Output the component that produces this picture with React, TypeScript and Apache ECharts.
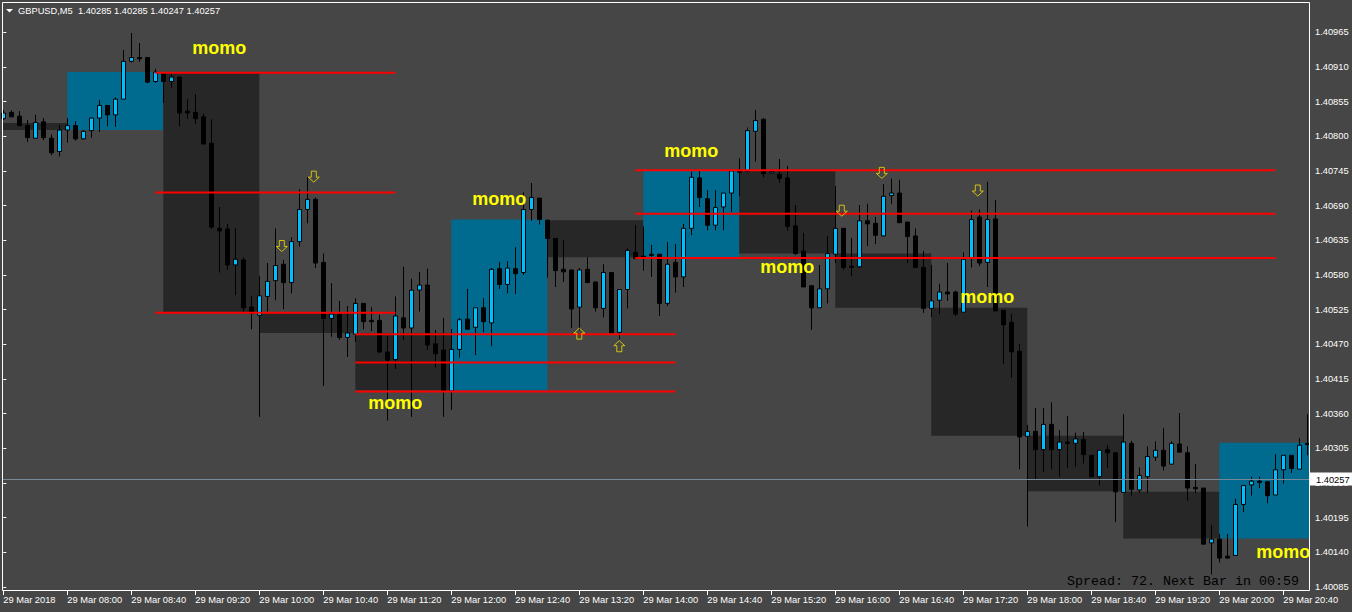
import React, { useEffect, useRef } from "react";
import * as echarts from "echarts";

// GBPUSD M5, 29 Mar 2018, bar 0 = 07:20 ... bar 163 = 20:55
const opens = [
  1.40828, 1.40838, 1.40832, 1.40817, 1.40797, 1.40823, 1.40797, 1.40776, 1.4081, 1.40817,
  1.40796, 1.40809, 1.40829, 1.40849, 1.40834, 1.40859, 1.40919, 1.40925, 1.40925, 1.40887,
  1.40901, 1.40887, 1.40894, 1.4084, 1.40838, 1.40831, 1.40789, 1.40654, 1.40653, 1.40596,
  1.40604, 1.40529, 1.40516, 1.40546, 1.40571, 1.40597, 1.40568, 1.40633, 1.40684, 1.407,
  1.406, 1.40511, 1.40517, 1.40481, 1.40486, 1.40535, 1.40508, 1.40508, 1.40458, 1.40446,
  1.40512, 1.40496, 1.40556, 1.40564, 1.40471, 1.40461, 1.40396, 1.40462, 1.4051, 1.40497,
  1.40528, 1.40504, 1.4059, 1.40565, 1.4059, 1.40584, 1.40684, 1.40702, 1.40667, 1.40638,
  1.40589, 1.40588, 1.40529, 1.40589, 1.40569, 1.40527, 1.40584, 1.40489, 1.40557, 1.40616,
  1.4061, 1.40613, 1.40613, 1.40535, 1.406, 1.40577, 1.40654, 1.40734, 1.40701, 1.40659,
  1.40688, 1.4071, 1.40747, 1.40744, 1.40808, 1.40827, 1.40742, 1.4074, 1.40734, 1.40658,
  1.40618, 1.40563, 1.40528, 1.40558, 1.40613, 1.40654, 1.40594, 1.40593, 1.40666, 1.40662,
  1.40642, 1.40706, 1.4071, 1.40664, 1.40642, 1.40592, 1.40527, 1.4054, 1.40553, 1.40553,
  1.40521, 1.40606, 1.40672, 1.406, 1.40669, 1.40524, 1.40505, 1.40459, 1.40324, 1.40332,
  1.40303, 1.40343, 1.40303, 1.40315, 1.40313, 1.40319, 1.40294, 1.4026, 1.40303, 1.40298,
  1.40235, 1.40313, 1.40239, 1.4026, 1.40291, 1.40302, 1.4028, 1.40312, 1.40298, 1.40243,
  1.40242, 1.40155, 1.40161, 1.40134, 1.40135, 1.40216, 1.40247, 1.40253, 1.40252, 1.40231,
  1.40271, 1.40294, 1.40272, 1.40313,
];
const highs = [
  1.40842, 1.40841, 1.4084, 1.40826, 1.40834, 1.40829, 1.40803, 1.40818, 1.40829, 1.40824,
  1.4081, 1.4083, 1.40858, 1.40849, 1.40862, 1.40937, 1.40964, 1.40948, 1.40925, 1.40907,
  1.40901, 1.40901, 1.40894, 1.40859, 1.40867, 1.40836, 1.40827, 1.40688, 1.40661, 1.40654,
  1.40608, 1.40547, 1.40578, 1.40599, 1.40654, 1.40604, 1.4064, 1.40716, 1.40735, 1.40703,
  1.40614, 1.40567, 1.40539, 1.40531, 1.40543, 1.40535, 1.40529, 1.40517, 1.40484, 1.40546,
  1.40593, 1.40574, 1.40585, 1.4059, 1.40493, 1.40512, 1.40494, 1.40512, 1.40558, 1.40528,
  1.40543, 1.40591, 1.40601, 1.40602, 1.40624, 1.40711, 1.40726, 1.40702, 1.40667, 1.40638,
  1.40635, 1.40588, 1.40591, 1.40608, 1.40569, 1.40597, 1.40584, 1.40557, 1.40622, 1.40659,
  1.40657, 1.40628, 1.40613, 1.40632, 1.40629, 1.40661, 1.40744, 1.40745, 1.40715, 1.40715,
  1.4071, 1.40745, 1.40765, 1.40814, 1.40842, 1.40829, 1.40745, 1.40764, 1.40753, 1.40691,
  1.40647, 1.40563, 1.40596, 1.40642, 1.40721, 1.40654, 1.40639, 1.40691, 1.40693, 1.40672,
  1.40724, 1.40733, 1.40731, 1.40664, 1.40654, 1.40618, 1.40596, 1.40566, 1.40599, 1.40555,
  1.40616, 1.40682, 1.40684, 1.40728, 1.40699, 1.40524, 1.40518, 1.40471, 1.40342, 1.40369,
  1.40369, 1.40378, 1.40334, 1.40356, 1.4033, 1.40331, 1.40294, 1.40302, 1.4031, 1.40298,
  1.40359, 1.40317, 1.40275, 1.40308, 1.40316, 1.40337, 1.40316, 1.40361, 1.40308, 1.4028,
  1.40242, 1.40183, 1.40169, 1.40169, 1.40225, 1.40246, 1.4026, 1.4026, 1.40252, 1.40296,
  1.40294, 1.40294, 1.40321, 1.40359,
];
const lows = [
  1.40826, 1.4083, 1.40817, 1.40791, 1.40797, 1.40794, 1.4077, 1.40768, 1.4079, 1.40793,
  1.40795, 1.40798, 1.40807, 1.40816, 1.40815, 1.40859, 1.40917, 1.40918, 1.40884, 1.40885,
  1.40853, 1.40877, 1.40816, 1.40828, 1.4082, 1.40787, 1.40653, 1.40584, 1.40588, 1.40548,
  1.40522, 1.40494, 1.40355, 1.40522, 1.4054, 1.40526, 1.40551, 1.40625, 1.40662, 1.40591,
  1.40404, 1.40482, 1.40477, 1.4045, 1.40474, 1.40494, 1.40491, 1.40456, 1.40349, 1.40431,
  1.40477, 1.40355, 1.40522, 1.40461, 1.40433, 1.40355, 1.40366, 1.40449, 1.40493, 1.40453,
  1.40489, 1.40467, 1.40558, 1.40551, 1.4055, 1.4058, 1.40666, 1.4066, 1.40576, 1.40561,
  1.40569, 1.40496, 1.40493, 1.40568, 1.40522, 1.40513, 1.40488, 1.40478, 1.40527, 1.40606,
  1.40587, 1.40577, 1.40515, 1.40531, 1.40552, 1.40561, 1.40643, 1.40688, 1.40651, 1.40651,
  1.40651, 1.4068, 1.40705, 1.40744, 1.4076, 1.40735, 1.40741, 1.40726, 1.4065, 1.40612,
  1.40561, 1.40493, 1.40528, 1.40535, 1.40599, 1.40588, 1.40578, 1.40592, 1.40626, 1.40629,
  1.40641, 1.40693, 1.40663, 1.40599, 1.40591, 1.4052, 1.40513, 1.40518, 1.40539, 1.40515,
  1.40521, 1.40592, 1.40594, 1.40561, 1.40523, 1.40439, 1.40417, 1.40272, 1.40181, 1.40255,
  1.40268, 1.40272, 1.4026, 1.40274, 1.40276, 1.40281, 1.4026, 1.40246, 1.40274, 1.40188,
  1.40235, 1.4023, 1.40234, 1.40234, 1.40285, 1.4027, 1.4028, 1.40299, 1.40222, 1.40234,
  1.40153, 1.40105, 1.40124, 1.4013, 1.40135, 1.40204, 1.4023, 1.40242, 1.40218, 1.40231,
  1.40249, 1.40266, 1.40272, 1.40294,
];
const closes = [
  1.40837, 1.40831, 1.40817, 1.40798, 1.40822, 1.40798, 1.40774, 1.4081, 1.40817, 1.40796,
  1.40808, 1.40829, 1.40849, 1.40834, 1.40859, 1.40919, 1.40925, 1.40923, 1.40886, 1.40902,
  1.40887, 1.40894, 1.40837, 1.40837, 1.40828, 1.40788, 1.40656, 1.4065, 1.40596, 1.40605,
  1.40528, 1.40519, 1.40547, 1.4057, 1.40595, 1.40568, 1.40633, 1.40684, 1.407, 1.40599,
  1.40511, 1.40518, 1.40481, 1.40488, 1.40535, 1.40506, 1.40506, 1.40458, 1.40445, 1.40515,
  1.40496, 1.40556, 1.40564, 1.40469, 1.40455, 1.40396, 1.40462, 1.40509, 1.40494, 1.40528,
  1.40506, 1.40589, 1.40565, 1.40591, 1.40582, 1.40684, 1.40703, 1.40668, 1.40638, 1.40587,
  1.40585, 1.40526, 1.40588, 1.40568, 1.40528, 1.40584, 1.40488, 1.40557, 1.40619, 1.40606,
  1.40608, 1.40611, 1.40535, 1.40597, 1.40577, 1.40654, 1.40735, 1.40703, 1.40659, 1.40687,
  1.4071, 1.40745, 1.40743, 1.40809, 1.40825, 1.40741, 1.40744, 1.40733, 1.40657, 1.40614,
  1.40561, 1.40528, 1.40558, 1.40614, 1.40654, 1.40592, 1.40592, 1.40666, 1.40661, 1.40643,
  1.40705, 1.4071, 1.40663, 1.40641, 1.40592, 1.40527, 1.40539, 1.40553, 1.4055, 1.40518,
  1.40605, 1.40668, 1.40599, 1.40668, 1.40523, 1.40501, 1.40458, 1.40323, 1.40332, 1.40303,
  1.40343, 1.40303, 1.40315, 1.40313, 1.4032, 1.40295, 1.4026, 1.40302, 1.40298, 1.40236,
  1.40315, 1.4024, 1.40262, 1.40292, 1.40302, 1.40277, 1.40313, 1.40299, 1.40242, 1.40241,
  1.40153, 1.40161, 1.40131, 1.40131, 1.40216, 1.40246, 1.40253, 1.40251, 1.4023, 1.40271,
  1.40294, 1.40273, 1.4031, 1.40311,
];

const timeLabelBars = [0, 8, 16, 24, 32, 40, 48, 56, 64, 72, 80, 88, 96, 104, 112, 120, 128, 136, 144, 152, 160];
const timeLabels = [
  "29 Mar 2018", "29 Mar 08:00", "29 Mar 08:40", "29 Mar 09:20", "29 Mar 10:00", "29 Mar 10:40",
  "29 Mar 11:20", "29 Mar 12:00", "29 Mar 12:40", "29 Mar 13:20", "29 Mar 14:00", "29 Mar 14:40",
  "29 Mar 15:20", "29 Mar 16:00", "29 Mar 16:40", "29 Mar 17:20", "29 Mar 18:00", "29 Mar 18:40",
  "29 Mar 19:20", "29 Mar 20:00", "29 Mar 20:40",
];
const priceTicks = [
  1.40085, 1.4014, 1.40195, 1.4025, 1.40305, 1.4036, 1.40415, 1.4047, 1.40525,
  1.4058, 1.40635, 1.4069, 1.40745, 1.408, 1.40855, 1.4091, 1.40965,
];

// hourly open/close boxes
const boxStart = [-2, 8, 20, 32, 44, 56, 68, 80, 92, 104, 116, 128, 140, 152];
const boxEnd = [8, 20, 32, 44, 56, 68, 80, 92, 104, 116, 128, 140, 152, 165];
const boxTop = [1.40821, 1.40902, 1.40901, 1.40519, 1.40488, 1.40668, 1.40667, 1.40745, 1.40745, 1.40614, 1.40528, 1.40325, 1.40236, 1.40314];
const boxBottom = [1.4081, 1.4081, 1.40521, 1.40488, 1.40397, 1.40397, 1.40608, 1.40608, 1.40614, 1.40528, 1.40325, 1.40237, 1.40162, 1.40162];
const boxBull = [0, 1, 0, 0, 0, 1, 0, 1, 0, 0, 0, 0, 0, 1];

// red level lines
const lineStart = [19, 19, 19, 44, 44, 44, 79, 79, 79];
const lineEnd = [49, 49, 49, 84, 84, 84, 159, 159, 159];
const linePrice = [1.40901, 1.40711, 1.4052, 1.40486, 1.40441, 1.40395, 1.40746, 1.40677, 1.40607];

// "momo" labels
const momoBar = [27, 49, 62, 86, 98, 123, 160];
const momoPrice = [1.4094, 1.40377, 1.407, 1.40777, 1.40593, 1.40545, 1.4014];

// signal arrows
const downArrowBar = [35, 39, 105, 110, 122];
const downArrowPrice = [1.40626, 1.40736, 1.40682, 1.40742, 1.40714];
const upArrowBar = [72, 77];
const upArrowPrice = [1.40487, 1.40467];

const bidPrice = 1.40257;
const headerSymbol = "GBPUSD,M5";
const headerOHLC = [1.40285, 1.40285, 1.40247, 1.40257];
const spreadPoints = 72;
const nextBarIn = "00:59";

const BG = "#464646";
const DARK_BOX = "#272727";
const BLUE_BOX = "#006b8f";
const BULL = "#00bfff";
const UI_FONT = '"Liberation Sans", Arial, sans-serif';

export default function App() {
  const ref = useRef<HTMLDivElement>(null);

  useEffect(() => {
    const chart = echarts.init(ref.current!, undefined, { renderer: "svg" });

    const candles = opens.map((o, i) => [i, o, closes[i], lows[i], highs[i]]);
    const boxes = boxStart.map((s, i) => [s, boxEnd[i], boxTop[i], boxBottom[i], boxBull[i]]);
    const lines = lineStart.map((s, i) => [s, lineEnd[i], linePrice[i]]);
    const momo = momoBar.map((b, i) => [b, momoPrice[i]]);
    const downs = downArrowBar.map((b, i) => [b, downArrowPrice[i]]);
    const ups = upArrowBar.map((b, i) => [b, upArrowPrice[i]]);

    const option: any = {
      animation: false,
      backgroundColor: BG,
      grid: { left: 2, right: 43, top: 2, bottom: 21, show: false },
      xAxis: {
        type: "value",
        min: -0.1625,
        max: 163.2125,
        axisLine: { show: false },
        splitLine: { show: false },
        axisTick: {
          show: true,
          customValues: timeLabelBars,
          length: 4,
          lineStyle: { color: "#ffffff", width: 1 },
        },
        axisLabel: {
          show: true,
          customValues: timeLabelBars,
          formatter: (v: number) => timeLabels[timeLabelBars.indexOf(Math.round(v))] ?? "",
          color: "#ffffff",
          fontFamily: UI_FONT,
          fontSize: 9.3,
          align: "left",
          margin: 4,
        },
      },
      yAxis: {
        type: "value",
        position: "right",
        min: 1.400787,
        max: 1.410131,
        axisLine: { show: false },
        splitLine: { show: false },
        axisTick: {
          show: true,
          customValues: priceTicks,
          length: 3,
          lineStyle: { color: "#ffffff", width: 1 },
        },
        axisLabel: {
          show: true,
          customValues: priceTicks,
          formatter: (v: number) => v.toFixed(5),
          color: "#ffffff",
          fontFamily: UI_FONT,
          fontSize: 9.3,
          margin: 6,
        },
      },
      series: [
        {
          type: "custom",
          name: "hourBoxes",
          silent: true,
          z: 1,
          encode: { x: [0, 1], y: [2, 3] },
          data: boxes,
          renderItem: (params: any, api: any) => {
            const p1 = api.coord([api.value(0), api.value(2)]);
            const p2 = api.coord([api.value(1), api.value(3)]);
            const shape = echarts.graphic.clipRectByRect(
              { x: p1[0], y: p1[1], width: p2[0] - p1[0], height: p2[1] - p1[1] },
              {
                x: params.coordSys.x,
                y: params.coordSys.y,
                width: params.coordSys.width,
                height: params.coordSys.height,
              }
            );
            return shape
              ? { type: "rect", shape, style: { fill: api.value(4) ? BLUE_BOX : DARK_BOX } }
              : null;
          },
        },
        {
          type: "candlestick",
          name: "GBPUSD",
          silent: true,
          z: 2,
          barWidth: 4,
          data: candles,
          itemStyle: {
            color: BULL,
            color0: "#000000",
            borderColor: "#000000",
            borderColor0: "#000000",
            borderColorDoji: "#000000",
            borderWidth: 1,
          },
        },
        {
          type: "custom",
          name: "levels",
          silent: true,
          z: 3,
          encode: { x: [0, 1], y: 2 },
          data: lines,
          renderItem: (_params: any, api: any) => {
            const a = api.coord([api.value(0), api.value(2)]);
            const b = api.coord([api.value(1), api.value(2)]);
            return {
              type: "line",
              shape: { x1: a[0], y1: a[1], x2: b[0], y2: b[1] },
              style: { stroke: "#ff0000", lineWidth: 2 },
            };
          },
        },
        {
          type: "custom",
          name: "bid",
          silent: true,
          z: 6,
          encode: { x: 0, y: 1 },
          data: [[0, bidPrice]],
          renderItem: (params: any, api: any) => {
            const cs = params.coordSys;
            const y = Math.round(api.coord([api.value(0), api.value(1)])[1]) + 0.5;
            const right = cs.x + cs.width;
            return {
              type: "group",
              children: [
                {
                  type: "line",
                  shape: { x1: cs.x, y1: y, x2: right, y2: y },
                  style: { stroke: "#778899", lineWidth: 1 },
                },
                {
                  type: "rect",
                  shape: { x: right + 1, y: y - 7, width: 43, height: 13 },
                  style: { fill: "#ffffff" },
                },
                {
                  type: "text",
                  x: right + 7,
                  y: y,
                  style: {
                    text: api.value(1).toFixed(5),
                    fill: "#000000",
                    font: '9.3px "Liberation Sans", Arial, sans-serif',
                    verticalAlign: "middle",
                  },
                },
              ],
            };
          },
        },
        {
          type: "scatter",
          name: "down",
          silent: true,
          z: 4,
          data: downs,
          symbol: "path://M3,0 L8,0 L8,6 L11,6 L5.5,11 L0,6 L3,6 Z",
          symbolSize: [11, 11],
          symbolOffset: [-1.5, 0],
          itemStyle: { color: "rgba(0,0,0,0)", borderColor: "#f2e000", borderWidth: 1 },
        },
        {
          type: "scatter",
          name: "up",
          silent: true,
          z: 4,
          data: ups,
          symbol: "path://M5.5,0 L11,5 L8,5 L8,11 L3,11 L3,5 L0,5 Z",
          symbolSize: [11, 11],
          itemStyle: { color: "rgba(0,0,0,0)", borderColor: "#f2e000", borderWidth: 1 },
        },
        {
          type: "custom",
          name: "momo",
          silent: true,
          z: 5,
          encode: { x: 0, y: 1 },
          data: momo,
          renderItem: (_params: any, api: any) => {
            const p = api.coord([api.value(0), api.value(1)]);
            return {
              type: "text",
              x: p[0],
              y: p[1],
              style: {
                text: "momo",
                fill: "#ffff00",
                font: 'bold 18px "Liberation Sans", Arial, sans-serif',
                align: "center",
                verticalAlign: "middle",
              },
            };
          },
        },
      ],
      graphic: [
        {
          type: "rect",
          z: 100,
          silent: true,
          shape: { x: 2.5, y: 2.5, width: 1307, height: 588 },
          style: { fill: "none", stroke: "#ffffff", lineWidth: 1 },
        },
        {
          type: "polygon",
          z: 100,
          silent: true,
          shape: { points: [[6, 9], [13, 9], [9.5, 12.5]] },
          style: { fill: "#ffffff" },
        },
        {
          type: "text",
          z: 100,
          silent: true,
          x: 18,
          y: 11,
          style: {
            text: headerSymbol + "  " + headerOHLC.map((v) => v.toFixed(5)).join(" "),
            fill: "#ffffff",
            font: '9.3px "Liberation Sans", Arial, sans-serif',
            verticalAlign: "middle",
          },
        },
        {
          type: "text",
          z: 100,
          silent: true,
          x: 1067,
          y: 588,
          style: {
            text: "Spread: " + spreadPoints + ". Next Bar in " + nextBarIn,
            fill: "#000000",
            font: '13.33px "Liberation Mono", "Courier New", monospace',
            verticalAlign: "bottom",
          },
        },
      ],
    };

    chart.setOption(option);
    return () => chart.dispose();
  }, []);

  return (
    <div
      ref={ref}
      style={{ position: "fixed", left: 0, top: 0, width: 1352, height: 612, background: BG }}
    />
  );
}
